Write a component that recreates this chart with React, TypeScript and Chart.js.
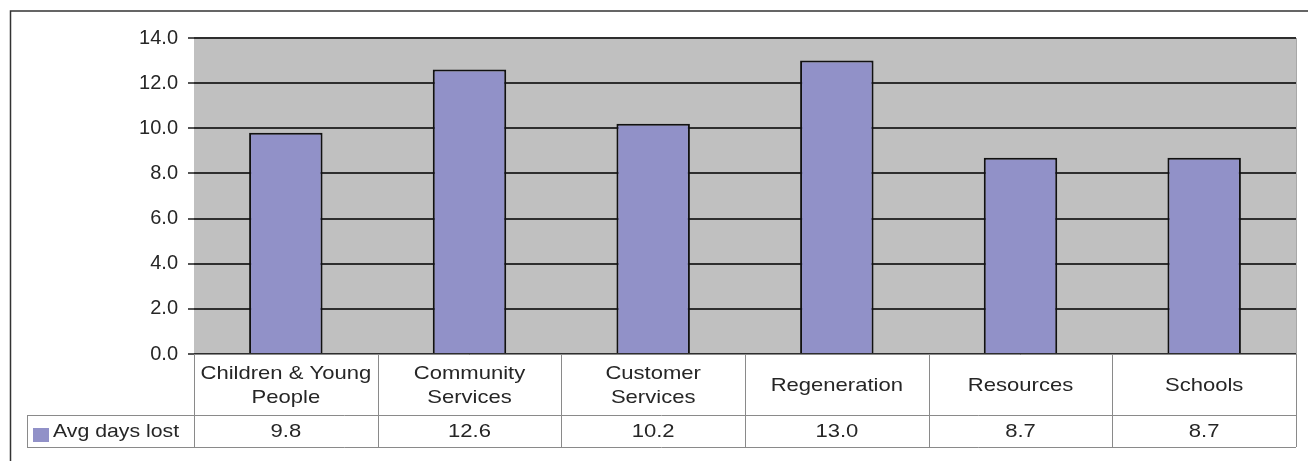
import React, { useEffect, useRef } from "react";
import { Chart, registerables } from "chart.js";

Chart.register(...registerables);

const categories: string[][] = [
  ["Children & Young", "People"],
  ["Community", "Services"],
  ["Customer", "Services"],
  ["Regeneration"],
  ["Resources"],
  ["Schools"],
];
const seriesName = "Avg days lost";
const avgDaysLost: number[] = [9.8, 12.6, 10.2, 13.0, 8.7, 8.7];
const yTicks: number[] = [0, 2, 4, 6, 8, 10, 12, 14];

const FONT = "'Liberation Sans', Arial, sans-serif";
const BAR_FILL = "#9191c8";
const TEXT = "#262626";
const STRETCH = 1.16;

const framePlugin = {
  id: "frame",
  beforeDraw(chart: any) {
    const { ctx, chartArea } = chart;
    ctx.save();
    ctx.fillStyle = "#ffffff";
    ctx.fillRect(0, 0, chart.width, chart.height);
    ctx.strokeStyle = "#333333";
    ctx.lineWidth = 1.5;
    ctx.beginPath();
    ctx.moveTo(chart.width, 11);
    ctx.lineTo(10.5, 11);
    ctx.lineTo(10.5, chart.height);
    ctx.stroke();
    ctx.fillStyle = "#c0c0c0";
    ctx.fillRect(chartArea.left, chartArea.top, chartArea.right - chartArea.left, chartArea.bottom - chartArea.top);
    ctx.strokeStyle = "#a8a8a8";
    ctx.lineWidth = 1;
    ctx.beginPath();
    ctx.moveTo(chartArea.right + 0.5, chartArea.top);
    ctx.lineTo(chartArea.right + 0.5, chartArea.bottom);
    ctx.stroke();
    ctx.restore();
  },
};

const tablePlugin = {
  id: "dataTable",
  afterDraw(chart: any) {
    const { ctx, chartArea } = chart;
    const x = chart.scales.x;
    const n = categories.length;
    const half = (x.getPixelForValue(1) - x.getPixelForValue(0)) / 2;
    const top = chartArea.bottom;
    const mid = top + 61;
    const bot = top + 93;
    const legendLeft = 27;
    ctx.save();
    ctx.strokeStyle = "#8a8a8a";
    ctx.lineWidth = 1;
    ctx.beginPath();
    ctx.moveTo(chartArea.left, top + 0.5);
    ctx.lineTo(chartArea.right, top + 0.5);
    ctx.moveTo(legendLeft, mid + 0.5);
    ctx.lineTo(chartArea.right, mid + 0.5);
    ctx.moveTo(legendLeft, bot + 0.5);
    ctx.lineTo(chartArea.right, bot + 0.5);
    ctx.moveTo(legendLeft + 0.5, mid);
    ctx.lineTo(legendLeft + 0.5, bot);
    for (let i = 0; i <= n; i++) {
      const cx = i < n ? x.getPixelForValue(i) - half : x.getPixelForValue(n - 1) + half;
      const px = Math.round(cx) + 0.5;
      ctx.moveTo(px, top);
      ctx.lineTo(px, bot);
    }
    ctx.stroke();

    ctx.fillStyle = TEXT;
    ctx.textAlign = "center";
    ctx.textBaseline = "middle";
    ctx.font = `19px ${FONT}`;
    const lineH = 24;
    const rowMid = (top + mid) / 2 + 1;
    for (let i = 0; i < n; i++) {
      const cx = x.getPixelForValue(i);
      const lines = categories[i];
      const start = rowMid - ((lines.length - 1) * lineH) / 2;
      lines.forEach((ln, j) => {
        ctx.save();
        ctx.translate(cx, start + j * lineH);
        ctx.scale(STRETCH, 1);
        ctx.fillText(ln, 0, 0);
        ctx.restore();
      });
      ctx.save();
      ctx.translate(cx, (mid + bot) / 2 + 1);
      ctx.scale(STRETCH, 1);
      ctx.fillText(avgDaysLost[i].toFixed(1), 0, 0);
      ctx.restore();
    }
    ctx.fillStyle = BAR_FILL;
    ctx.fillRect(33, mid + 13, 16, 14);
    ctx.fillStyle = TEXT;
    ctx.textAlign = "left";
    ctx.save();
    ctx.translate(53, (mid + bot) / 2 + 1);
    ctx.scale(1.12, 1);
    ctx.fillText(seriesName, 0, 0);
    ctx.restore();
    ctx.restore();
  },
};

export default function App() {
  const ref = useRef<HTMLCanvasElement | null>(null);
  useEffect(() => {
    if (!ref.current) return;
    const chart = new Chart(ref.current, {
      type: "bar",
      data: {
        labels: categories,
        datasets: [
          {
            label: seriesName,
            data: avgDaysLost,
            backgroundColor: BAR_FILL,
            borderColor: "#111111",
            borderWidth: 2,
            barPercentage: 0.4,
            categoryPercentage: 1,
          },
        ],
      },
      options: {
        animation: false,
        responsive: false,
        maintainAspectRatio: false,
        events: [],
        layout: { padding: { top: 38, right: 12, bottom: 107, left: 0 } },
        plugins: {
          legend: { display: false },
          tooltip: { enabled: false },
          title: { display: false },
        },
        scales: {
          x: { display: false, offset: true },
          y: {
            min: 0,
            max: 14,
            afterFit: (s: any) => {
              s.width = 194;
            },
            afterBuildTicks: (s: any) => {
              s.ticks = yTicks.map((v) => ({ value: v }));
            },
            border: { display: false },
            grid: {
              color: "#2e2e2e",
              lineWidth: 2,
              tickLength: 6,
              drawTicks: true,
              tickColor: "#555555",
              tickWidth: 2,
            },
            ticks: {
              padding: 10,
              color: TEXT,
              font: { family: FONT, size: 20 },
              callback: (v: any) => Number(v).toFixed(1),
            },
          },
        },
      },
      plugins: [framePlugin, tablePlugin],
    });
    return () => chart.destroy();
  }, []);
  return (
    <div style={{ position: "fixed", left: 0, top: 0, width: 1308, height: 461, background: "#fff" }}>
      <canvas ref={ref} width={1308} height={461} style={{ display: "block", width: 1308, height: 461 }} />
    </div>
  );
}
